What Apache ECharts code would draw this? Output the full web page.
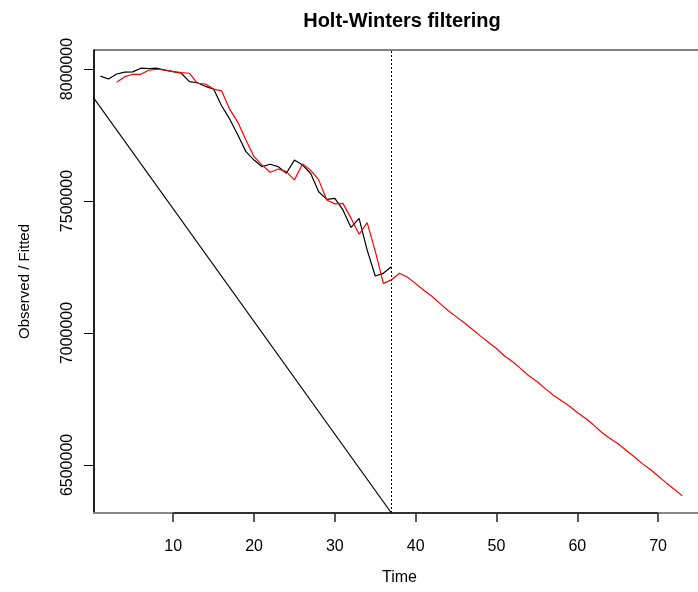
<!DOCTYPE html>
<html>
<head>
<meta charset="utf-8">
<script src="https://cdn.jsdelivr.net/npm/echarts@6/dist/echarts.min.js"></script>
<style>
  html, body { margin: 0; padding: 0; background: #fff; }
  #chart { width: 698px; height: 592px; }
</style>
</head>
<body>
<div id="chart"></div>
<script>
// Observed series, t = 1..37
const observed = [
  7973000, 7962000, 7981000, 7988000, 7989000, 8003000, 8002000, 8003000, 7996000, 7990000,
  7984000, 7952000, 7948000, 7934000, 7924000, 7860000, 7810000, 7750000, 7687000, 7655000,
  7630000, 7639000, 7630000, 7605000, 7655000, 7636000, 7605000, 7535000, 7506000, 7510000,
  7466000, 7400000, 7434000, 7314000, 7216000, 7226000, 7251000
];
const observedStart = 1;

// One-step fitted values, t = 3..37
const fitted = [
  7950000, 7971000, 7980000, 7980000, 7996000, 7999000, 7996000, 7990000, 7986000, 7984000,
  7946000, 7943000, 7924000, 7917000, 7847000, 7798000, 7731000, 7668000, 7636000, 7609000,
  7621000, 7611000, 7580000, 7640000, 7617000, 7580000, 7504000, 7489000, 7491000, 7435000,
  7374000, 7418000, 7310000, 7188000, 7201000
];
const fittedStart = 3;

// Forecast, t = 38..73
const predicted = [
  7226000, 7211000, 7187000, 7162000, 7139000, 7112000, 7085000, 7062000, 7039000, 7014000,
  6989000, 6965000, 6941000, 6913000, 6891000, 6865000, 6838000, 6816000, 6790000, 6765000,
  6744000, 6723000, 6699000, 6677000, 6652000, 6624000, 6601000, 6581000, 6557000, 6532000,
  6506000, 6484000, 6458000, 6432000, 6408000, 6383000
];

// Straight reference line (time, value)
const refTimes = [0, 37];
const refValues = [7897000, 6318000];

// Axis ticks and limits
const xTicks = [10, 20, 30, 40, 50, 60, 70];
const yTicks = [6500000, 7000000, 7500000, 8000000];
const xLimits = [0.2, 75.8];
const yLimits = [6318000, 8072000];

const fontFamily = '"Liberation Sans", Arial, Helvetica, sans-serif';
const splitTime = observedStart + observed.length - 1;
const predictedStart = splitTime + 1;

const observedData = observed.map((v, i) => [observedStart + i, v]);
const redData = fitted.map((v, i) => [fittedStart + i, v])
  .concat(predicted.map((v, i) => [predictedStart + i, v]));
const refData = refTimes.map((t, i) => [t, refValues[i]]);

const chart = echarts.init(document.getElementById('chart'), null, { renderer: 'canvas' });

chart.setOption({
  animation: false,
  backgroundColor: '#fff',
  title: {
    text: 'Holt-Winters filtering',
    left: 397,
    top: 6,
    textAlign: 'center',
    textStyle: { fontFamily, fontWeight: 'bold', fontSize: 20, color: '#000' }
  },
  grid: {
    left: 94, top: 50, width: 611, height: 463,
    outerBoundsMode: 'none',
    show: true, borderColor: '#000', borderWidth: 1, backgroundColor: 'transparent'
  },
  xAxis: {
    type: 'value',
    min: xLimits[0], max: xLimits[1],
    name: 'Time',
    nameLocation: 'middle',
    nameGap: 57,
    nameTextStyle: { fontFamily, fontSize: 16, color: '#000' },
    axisLine: { onZero: false, lineStyle: { color: '#888', width: 2 } },
    axisTick: { customValues: xTicks, length: 9, lineStyle: { color: '#222', width: 1.5 } },
    axisLabel: { customValues: xTicks, margin: 26, fontFamily, fontSize: 16, color: '#000' },
    splitLine: { show: false }
  },
  yAxis: {
    type: 'value',
    min: yLimits[0], max: yLimits[1],
    name: 'Observed / Fitted',
    nameLocation: 'middle',
    nameGap: 62,
    nameRotate: 90,
    nameTextStyle: { fontFamily, fontSize: 15, color: '#000' },
    axisLine: { onZero: false, lineStyle: { color: '#000', width: 1.5 } },
    axisTick: { customValues: yTicks, length: 10, lineStyle: { color: '#000', width: 1 } },
    axisLabel: {
      customValues: yTicks, rotate: 90, margin: 18,
      fontFamily, fontSize: 16, color: '#000',
      formatter: v => String(v)
    },
    splitLine: { show: false }
  },
  series: [
    {
      name: 'reference',
      type: 'line',
      data: refData,
      showSymbol: false,
      clip: true,
      lineStyle: { color: '#000', width: 1.2 },
      silent: true
    },
    {
      name: 'observed',
      type: 'line',
      data: observedData,
      showSymbol: false,
      clip: true,
      lineStyle: { color: '#000', width: 1.2 },
      silent: true,
      markLine: {
        silent: true,
        symbol: 'none',
        label: { show: false },
        lineStyle: { color: '#333', width: 2, type: 'solid' },
        data: [[
          { coord: [xTicks[0], yLimits[0]] },
          { coord: [xTicks[xTicks.length - 1], yLimits[0]] }
        ]]
      }
    },
    {
      name: 'fitted',
      type: 'line',
      data: redData,
      showSymbol: false,
      clip: true,
      lineStyle: { color: '#ff0000', width: 1.2 },
      silent: true,
      markLine: {
        silent: true,
        symbol: 'none',
        label: { show: false },
        lineStyle: { color: '#000', width: 1, type: [2, 2] },
        data: [{ xAxis: splitTime }]
      }
    }
  ]
});
</script>
</body>
</html>
